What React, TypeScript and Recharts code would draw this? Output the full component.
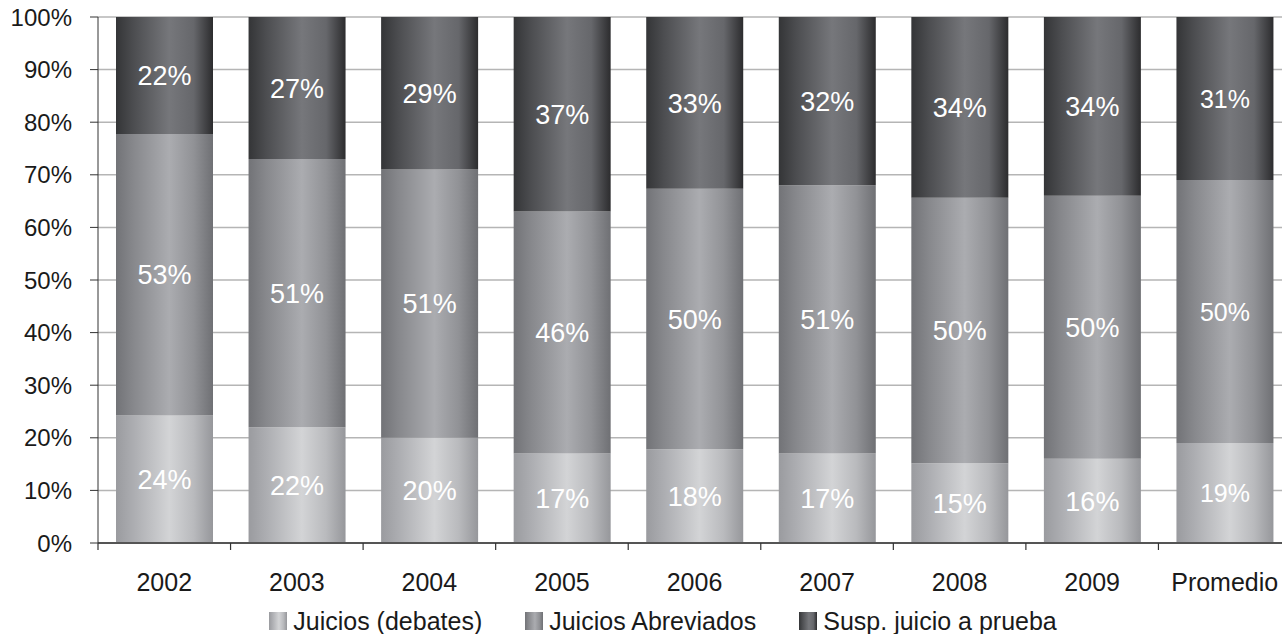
import { BarChart, Bar, XAxis, YAxis, CartesianGrid, Legend, LabelList } from 'recharts';

const categories = ['2002', '2003', '2004', '2005', '2006', '2007', '2008', '2009', 'Promedio'];
const juicios = [24, 22, 20, 17, 18, 17, 15, 16, 19];
const abreviados = [53, 51, 51, 46, 50, 51, 50, 50, 50];
const suspension = [22, 27, 29, 37, 33, 32, 34, 34, 31];
const yTicks = [0, 0.1, 0.2, 0.3, 0.4, 0.5, 0.6, 0.7, 0.8, 0.9, 1];

const seriesNames = ['Juicios (debates)', 'Juicios Abreviados', 'Susp. juicio a prueba'];

const data = categories.map((name, i) => ({
  name,
  j: juicios[i],
  a: abreviados[i],
  s: suspension[i],
}));

const FONT = '"Liberation Sans", Arial, sans-serif';

// horizontal "cylinder" shading for each series
const shades = [
  { id: 'gJ', stops: ['#9a9b9f', '#acadb1', '#d3d4d6', '#b9babd', '#96979b'] },
  { id: 'gA', stops: ['#727377', '#87888c', '#abacb0', '#919296', '#6f7074'] },
  { id: 'gS', stops: ['#343537', '#4c4d50', '#76777b', '#66676b', '#2c2c2e'] },
];
const offsets = ['0%', '18%', '55%', '80%', '100%'];

const cssGradient = (stops: string[]) =>
  `linear-gradient(to right, ${stops.map((c, i) => `${c} ${offsets[i]}`).join(', ')})`;

const XTick = (props: any) => {
  const { x, y, payload } = props;
  const off = payload.offset || 0;
  return (
    <g>
      <line x1={x - off} x2={x - off} y1={y - 8} y2={y - 1} stroke="#333" strokeWidth={1.2} />
      <text x={x} y={y + 40} textAnchor="middle" fontSize={25} fill="#1a1a1a" fontFamily={FONT}>
        {payload.value}
      </text>
    </g>
  );
};

const renderLabel = (props: any) => {
  const { x, y, width, height, value, index } = props;
  const size = index === categories.length - 1 ? 25 : 27;
  return (
    <text
      x={x + width / 2}
      y={y + height / 2}
      dy={size * 0.36}
      textAnchor="middle"
      fontSize={size}
      fill="#ffffff"
      fontFamily={FONT}
    >
      {value}%
    </text>
  );
};

const LegendContent = () => (
  <div
    style={{
      display: 'flex',
      justifyContent: 'center',
      alignItems: 'center',
      height: 26,
      paddingLeft: 35,
      fontFamily: FONT,
      fontSize: 25,
      color: '#1a1a1a',
    }}
  >
    {seriesNames.map((n, i) => (
      <div key={n} style={{ display: 'flex', alignItems: 'center', marginLeft: i === 0 ? 0 : 43 }}>
        <div style={{ width: 18, height: 18, background: cssGradient(shades[i].stops), marginRight: 6 }} />
        <span>{n}</span>
      </div>
    ))}
  </div>
);

export default function App() {
  return (
    <div style={{ position: 'absolute', left: 0, top: 0, width: 1282, height: 634, overflow: 'hidden', background: '#fff' }}>
      <BarChart
        width={1291}
        height={634}
        data={data}
        stackOffset="expand"
        margin={{ top: 17, right: 0, bottom: 0, left: 0 }}
      >
        <defs>
          {shades.map(s => (
            <linearGradient key={s.id} id={s.id} x1="0" y1="0" x2="1" y2="0">
              {s.stops.map((c, i) => (
                <stop key={i} offset={offsets[i]} stopColor={c} />
              ))}
            </linearGradient>
          ))}
        </defs>
        <CartesianGrid vertical={false} stroke="#b5b5b5" strokeWidth={1.5} />
        <XAxis
          dataKey="name"
          height={65}
          tickSize={8}
          tickMargin={0}
          tickLine={false}
          tick={<XTick />}
          axisLine={{ stroke: '#555', strokeWidth: 2 }}
          interval={0}
        />
        <YAxis
          type="number"
          domain={[0, 1]}
          ticks={yTicks}
          width={98}
          tickSize={8}
          tickMargin={18}
          tickFormatter={(v: number) => `${Math.round(v * 100)}%`}
          tick={{ fontSize: 24, fill: '#1a1a1a', fontFamily: FONT }}
          axisLine={{ stroke: '#333' }}
          tickLine={{ stroke: '#333' }}
        />
        <Legend verticalAlign="bottom" content={<LegendContent />} />
        <Bar dataKey="j" stackId="a" fill="url(#gJ)" barSize={97} isAnimationActive={false}>
          <LabelList dataKey="j" content={renderLabel} />
        </Bar>
        <Bar dataKey="a" stackId="a" fill="url(#gA)" barSize={97} isAnimationActive={false}>
          <LabelList dataKey="a" content={renderLabel} />
        </Bar>
        <Bar dataKey="s" stackId="a" fill="url(#gS)" barSize={97} isAnimationActive={false}>
          <LabelList dataKey="s" content={renderLabel} />
        </Bar>
      </BarChart>
    </div>
  );
}
